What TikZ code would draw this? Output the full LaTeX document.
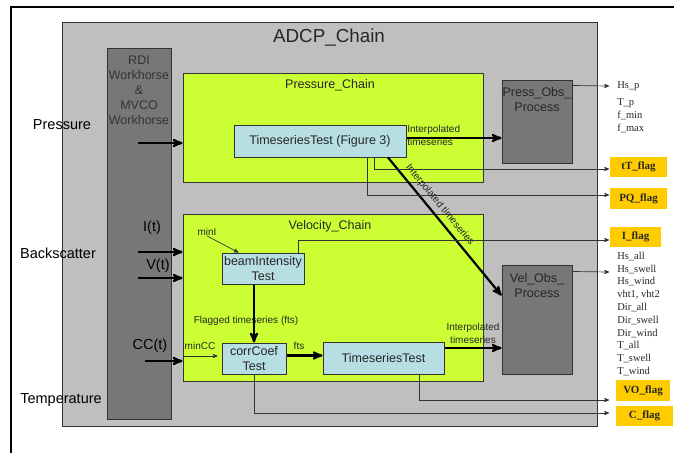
\documentclass[tikz,border=0pt]{standalone}
\usepackage{fontspec}
\setmainfont{Liberation Sans}
\newfontfamily\timesfont{Liberation Serif}
\usepackage{tikz}
\usetikzlibrary{arrows}
\definecolor{chaingray}{HTML}{BFBFBF}
\definecolor{procgray}{HTML}{777777}
\definecolor{chaingreen}{HTML}{CCFF33}
\definecolor{testblue}{HTML}{B7DEE3}
\definecolor{flagorange}{HTML}{FFCC00}
\definecolor{edgegray}{HTML}{333333}

\begin{document}
\begin{tikzpicture}[x=1pt,y=-1pt,>=stealth',semithick]
\tikzstyle{every node}=[inner sep=0pt,text=black!85]
\tikzstyle{box}=[draw=edgegray,line width=1pt,rectangle]
\tikzstyle{chain}=[box,fill=chaingreen]
\tikzstyle{proc}=[box,fill=procgray]
\tikzstyle{test}=[box,fill=testblue,align=center,font=\fontsize{12.5}{15}\selectfont]
\tikzstyle{flag}=[fill=flagorange,font=\timesfont\bfseries\fontsize{11}{13}\selectfont]
\tikzstyle{boxtext}=[align=center,font=\fontsize{12.5}{15}\selectfont]
\tikzstyle{intext}=[font=\fontsize{14.5}{17}\selectfont,text=black]
\tikzstyle{small}=[font=\fontsize{10}{13}\selectfont]
\tikzstyle{outlist}=[anchor=west,align=left,font=\timesfont\fontsize{10.5}{12.8}\selectfont]
\tikzstyle{flow}=[->,line width=2.2pt,draw=black]
\tikzstyle{signal}=[->,line width=0.7pt,draw=black!80]

\fill[white] (0,0) rectangle (674,453);
\useasboundingbox (0,0) rectangle (674,453);
\draw[line width=2pt] (674,7) -- (11,7) -- (11,453);

% outer chain and instrument
\node[box,fill=chaingray,minimum width=535pt,minimum height=404pt] (adcp) at (329.5,224) {};
\node[font=\fontsize{18.8}{22}\selectfont] (adcptitle) at (329,38) {ADCP\_Chain};
\node[proc,minimum width=64pt,minimum height=371pt] (rdi) at (139,233.5) {};
\node[boxtext,anchor=north,text=black!80] (rditext) at (139,55.5) {RDI\\Workhorse\\\&\\MVCO\\Workhorse};

% pressure part
\node[chain,minimum width=300pt,minimum height=109pt] (pchain) at (333,127.5) {};
\node[boxtext] (ptitle) at (330,85) {Pressure\_Chain};
\node[test,minimum width=172pt,minimum height=32pt] (ptest) at (320,141) {TimeseriesTest (Figure 3)};
\node[proc,minimum width=70pt,minimum height=83pt] (pobs) at (537,121.5) {};
\node[boxtext,anchor=north] (pobstext) at (537,87.5) {Press\_Obs\_\\Process};

% velocity part
\node[chain,minimum width=300pt,minimum height=167pt] (vchain) at (333,297.5) {};
\node[boxtext] (vtitle) at (330,226) {Velocity\_Chain};
\node[test,minimum width=82pt,minimum height=31pt] (beam) at (263,268.5) {beamIntensity\\Test};
\node[test,minimum width=64pt,minimum height=31pt] (corr) at (254,358.5) {corrCoef\\Test};
\node[test,minimum width=121pt,minimum height=32pt] (vtest) at (383.5,358) {TimeseriesTest};
\node[proc,minimum width=70pt,minimum height=109pt] (vobs) at (537,319.5) {};
\node[boxtext,anchor=north] (vobstext) at (537,273.5) {Vel\_Obs\_\\Process};

% inputs
\node[intext] (pressure) at (62,125) {Pressure};
\node[intext] (backscatter) at (58,253) {Backscatter};
\node[intext] (temperature) at (61,400) {Temperature};
\node[intext] (it) at (152,228) {I(t)};
\node[intext] (vt) at (158,266) {V(t)};
\node[intext] (cct) at (150,346) {CC(t)};
\coordinate (pin) at (138,143);
\coordinate (iin) at (138,252);
\coordinate (vin) at (138,278);
\coordinate (ccin) at (145,361);
\draw[flow] (pin) -- (pin -| pchain.west);
\draw[flow] (iin) -- (iin -| vchain.west);
\draw[flow] (vin) -- (vin -| vchain.west);
\draw[flow] (ccin) -- (ccin -| vchain.west);

% small labels
\node[small,anchor=west,align=left] (plabel) at (407,135.5) {Interpolated\\timeseries};
\node[small,align=center] (vlabel) at (473,333) {Interpolated\\timeseries};
\node[small] (mini) at (207,232) {minI};
\node[small] (mincc) at (200,346) {minCC};
\node[small] (flagged) at (246,321) {Flagged timeseries (fts)};
\node[small] (ftslabel) at (299,346) {fts};

% flags and outputs
\node[flag,minimum width=57pt,minimum height=20pt] (ttflag) at (638.5,167) {tT\_flag};
\node[flag,minimum width=57pt,minimum height=21pt] (pqflag) at (638.5,198.5) {PQ\_flag};
\node[flag,minimum width=51pt,minimum height=20pt] (iflag) at (635.5,237) {I\_flag};
\node[flag,minimum width=54pt,minimum height=21pt] (voflag) at (643,390.5) {VO\_flag};
\node[flag,minimum width=57pt,minimum height=20pt] (cflag) at (644.5,416) {C\_flag};
\node[outlist] (hsp) at (617,86) {Hs\_p};
\node[outlist] (plist) at (617,116) {T\_p\\f\_min\\f\_max};
\node[outlist] (vlist) at (617,314) {Hs\_all\\Hs\_swell\\Hs\_wind\\vht1, vht2\\Dir\_all\\Dir\_swell\\Dir\_wind\\T\_all\\T\_swell\\T\_wind};

% thick flows
\coordinate (pflow) at ([yshift=3pt]ptest.east);
\draw[flow] (pflow) -- (pflow -| pobs.west);
\draw[flow] ([xshift=68pt]ptest.south) -- ([yshift=-31pt]vobs.north west)
  node[small,pos=0.39,sloped,above=4pt]{Interpolated timeseries};
\draw[flow] (corr.north |- beam.south) -- (corr.north);
\coordinate (fflow) at ([yshift=3pt]corr.east);
\draw[flow] (fflow) -- (fflow -| vtest.west);
\coordinate (vflow) at ([yshift=10pt]vtest.east);
\draw[flow] (vflow) -- (vflow -| vobs.west);

% thin signals
\draw[signal] (mini.south) -- ([xshift=17pt]beam.north west);
\coordinate (ccsig) at (183,356);
\draw[signal,shorten >=4pt] (ccsig) -- (ccsig -| corr.west);
\coordinate (hspend) at (609,86);
\draw[signal] ([yshift=-6pt]pobs.north east) -- (hspend);
\coordinate (vlistend) at (609,272);
\draw[signal] ([yshift=-7pt]vobs.north east) -- (vlistend);
\coordinate (ttend) at (609,169);
\draw[signal] ([xshift=54pt]ptest.south) |- (ttend);
\coordinate (pqend) at (609,195);
\draw[signal] ([xshift=47pt]ptest.south) |- (pqend);
\coordinate (iend) at (609,240);
\draw[signal] ([xshift=35pt]beam.north) |- (iend);
\coordinate (voend) at (609,400);
\draw[signal] ([xshift=35.5pt]vtest.south) |- (voend);
\coordinate (cend) at (609,413);
\draw[signal] (corr.south) |- (cend);
\end{tikzpicture}
\end{document}
